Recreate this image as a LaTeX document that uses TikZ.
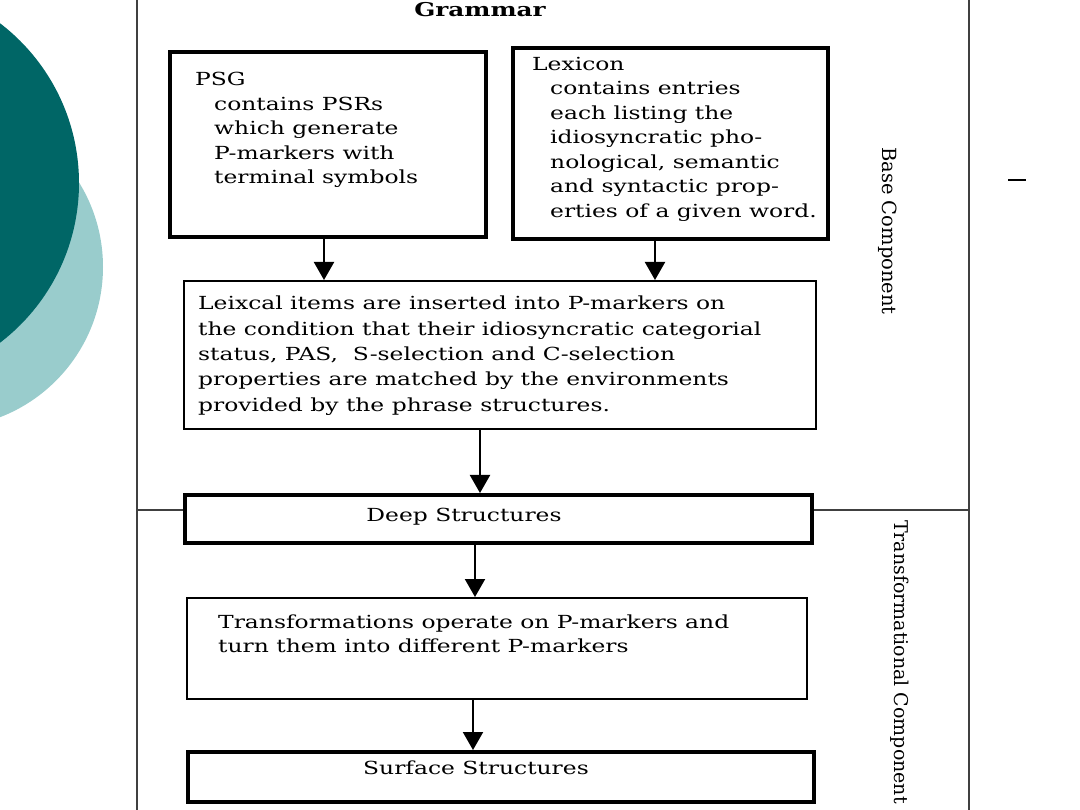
\documentclass[tikz,border=0pt]{standalone}
\usepackage{fontspec}
\setmainfont{DejaVu Serif}[FakeStretch=1.3]
\newfontfamily\sidefont{DejaVu Serif}
\usepackage{xcolor}
\usetikzlibrary{arrows.meta, positioning}

\definecolor{tealdark}{RGB}{0,102,102}
\definecolor{teallight}{RGB}{153,204,204}

\begin{document}
\begin{tikzpicture}[
    x=1pt, y=-1pt,
    thickbox/.style={rectangle, draw, line width=4pt, anchor=north west, inner sep=0pt},
    thinbox/.style={rectangle, draw, line width=1.8pt, anchor=north west, inner sep=0pt},
    txt/.style={anchor=north west, align=left, inner sep=0pt, font=\fontsize{18}{24.5}\selectfont},
    sidelabel/.style={rotate=-90, inner sep=0pt, font=\sidefont\fontsize{19.5}{22}\selectfont},
    arrow/.style={-{Triangle[width=20pt, length=18pt]}, line width=2pt},
    frame/.style={line width=2pt, draw=black!75}
]
\useasboundingbox (0,0) rectangle (1080,810);

% Slide decoration
\begin{scope}
  \clip (0,0) rectangle (1080,810);
  \fill[teallight] (-58,267) circle (161);
  \fill[tealdark] (-122,183) circle (201);
\end{scope}

% Title
\node[font=\fontsize{19}{22}\selectfont\bfseries, inner sep=0pt] (title) at (480,10) {Grammar};

% Base component
\node[thickbox, minimum width=316, minimum height=185] (psg) at (168,50) {};
\node[txt] (psgtext) at (195,72) {PSG\\
  \hspace*{19pt}contains PSRs\\
  \hspace*{19pt}which generate\\
  \hspace*{19pt}P-markers with\\
  \hspace*{19pt}terminal symbols};

\node[thickbox, minimum width=315, minimum height=191] (lex) at (511,46) {};
\node[txt] (lextext) at (532,57) {Lexicon\\
  \hspace*{18pt}contains entries\\
  \hspace*{18pt}each listing the\\
  \hspace*{18pt}idiosyncratic pho-\\
  \hspace*{18pt}nological, semantic\\
  \hspace*{18pt}and syntactic prop-\\
  \hspace*{18pt}erties of a given word.};

\node[thinbox, minimum width=632, minimum height=148] (mid) at (183,280) {};
\node[txt, font=\fontsize{18}{25.3}\selectfont] (midtext) at (198,296) {Leixcal items are inserted into P-markers on\\
  the condition that their idiosyncratic categorial\\
  status, PAS,\ \ S-selection and C-selection\\
  properties are matched by the environments\\
  provided by the phrase structures.};

% Deep structures
\node[thickbox, minimum width=627, minimum height=48] (deep) at (183,493) {};
\node[txt, anchor=center] (deeptext) at (464,517) {Deep Structures};

% Transformational component
\node[thinbox, minimum width=620, minimum height=101] (trans) at (186,597) {};
\node[txt, font=\fontsize{18}{24}\selectfont] (transtext) at (218,615) {Transformations operate on P-markers and\\
  turn them into different P-markers};

\node[thickbox, minimum width=626, minimum height=50] (surf) at (186,750) {};
\node[txt, anchor=center] (surftext) at (476,768) {Surface Structures};

% Side labels
\node[sidelabel] (basecomp) at (888,231) {Base Component};
\node[sidelabel, font=\sidefont\fontsize{19}{22}\selectfont] (transcomp) at (900,662) {Transformational Component};

% Frame
\draw[frame] (137,0) -- (137,810);
\draw[frame] (969,0) -- (969,810);
\draw[frame, line width=1.6pt] (137,510) -- (deep.west |- 0,510);
\draw[frame, line width=1.6pt] (deep.east |- 0,510) -- (969,510);

% Arrows
\draw[arrow] (324,0 |- psg.south) -- (324,0 |- mid.north);
\draw[arrow] (655,0 |- lex.south) -- (655,0 |- mid.north);
\draw[arrow] (480,0 |- mid.south) -- (480,0 |- deep.north);
\draw[arrow] (475,0 |- deep.south) -- (475,0 |- trans.north);
\draw[arrow] (473,0 |- trans.south) -- (473,0 |- surf.north);

% stray dash on the slide
\draw[line width=2pt] (1008,180) -- (1026,180);

\end{tikzpicture}
\end{document}
